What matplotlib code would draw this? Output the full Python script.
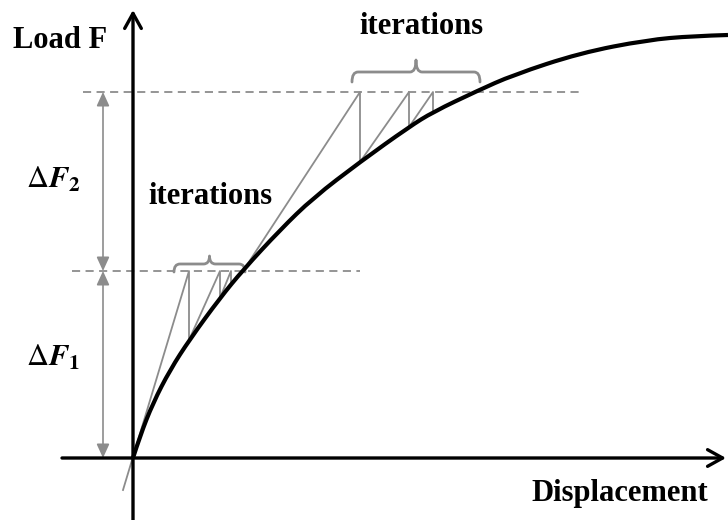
import matplotlib
matplotlib.use("Agg")
import matplotlib.pyplot as plt
from matplotlib.path import Path
from matplotlib.patches import PathPatch

plt.rcParams['font.family'] = ['Liberation Serif', 'DejaVu Serif']
plt.rcParams['mathtext.fontset'] = 'stix'

# ---------------- data (displacement, load) ----------------
curve_u = [0, 7, 20, 37, 57, 87, 110, 147, 180, 227, 276, 300, 344, 380, 447, 514, 560, 595]
curve_F = [0, 22, 55, 88, 119, 160, 188, 228, 260, 296, 331, 346, 367, 383, 405, 418, 422, 423]

load_levels = [187, 366]          # F1, F2
level_u_start = [-61, -50]
level_u_end = [227, 450]

inc1_u = [-10, 56, 56, 87, 87, 98, 98]
inc1_F = [-32, 187, 118, 187, 160, 187, 174]
inc2_u = [110, 227, 227, 276, 276, 300, 300]
inc2_F = [187, 366, 296, 366, 331, 366, 346]

brace_u = [(41, 112), (219, 347)]
brace_base = [186, 376]
brace_h = [8, 10]
brace_tip = [8, 12]

axis_u = [-71, 593]
axis_F = [-62, 448]
delta_u = -30

GRAY = '#8c8c8c'

fig = plt.figure(figsize=(7.28, 5.20), dpi=100)
ax = fig.add_axes([0, 0, 1, 1])
ax.set_xlim(-133, 595)
ax.set_ylim(-62, 458)
ax.axis('off')

# dashed load levels
for F, u0, u1 in zip(load_levels, level_u_start, level_u_end):
    ax.plot([u0, u1], [F, F], color=GRAY, lw=1.3, ls=(0, (4.5, 3)), zorder=1)

# iteration lines
ax.plot(inc1_u, inc1_F, color=GRAY, lw=1.3, zorder=2)
ax.plot(inc2_u, inc2_F, color=GRAY, lw=1.3, zorder=2)

# main curve: smooth quadratic path through the read points (points act as controls)
pts = list(zip(curve_u, curve_F))
verts = [pts[0]]
codes = [Path.MOVETO]
for i in range(1, len(pts) - 1):
    mid = ((pts[i][0] + pts[i + 1][0]) / 2, (pts[i][1] + pts[i + 1][1]) / 2)
    if i == len(pts) - 2:
        mid = pts[-1]
    verts += [pts[i], mid]
    codes += [Path.CURVE3, Path.CURVE3]
ax.add_patch(PathPatch(Path(verts, codes), fill=False, edgecolor='black', lw=3.0,
                       capstyle='butt', zorder=4))

# axes arrows
ax.annotate('', xy=(axis_u[1], 0), xytext=(axis_u[0], 0),
            arrowprops=dict(arrowstyle='->,head_length=0.9,head_width=0.5', lw=2.4,
                            color='black', shrinkA=0, shrinkB=0, mutation_scale=12), zorder=5)
ax.annotate('', xy=(0, axis_F[1]), xytext=(0, axis_F[0]),
            arrowprops=dict(arrowstyle='->,head_length=0.9,head_width=0.5', lw=2.4,
                            color='black', shrinkA=0, shrinkB=0, mutation_scale=12), zorder=5)

# delta arrows
lv = [0] + load_levels
for a, b in zip(lv[:-1], lv[1:]):
    ax.annotate('', xy=(delta_u, b), xytext=(delta_u, a),
                arrowprops=dict(arrowstyle='<|-|>,head_length=0.7,head_width=0.32', lw=1.2,
                                color=GRAY, shrinkA=0, shrinkB=0, mutation_scale=12))

# braces
def brace(x0, x1, y, h, t):
    xm = (x0 + x1) / 2
    c = 6
    verts = [(x0, y), (x0, y + h), (x0 + c, y + h), (xm - c, y + h),
             (xm, y + h), (xm, y + h + t), (xm, y + h), (xm + c, y + h),
             (x1 - c, y + h), (x1, y + h), (x1, y)]
    codes = [Path.MOVETO, Path.CURVE3, Path.CURVE3, Path.LINETO,
             Path.CURVE3, Path.CURVE3, Path.CURVE3, Path.CURVE3,
             Path.LINETO, Path.CURVE3, Path.CURVE3]
    ax.add_patch(PathPatch(Path(verts, codes), fill=False, edgecolor=GRAY, lw=2.0,
                           capstyle='round', joinstyle='round', zorder=3))

for (x0, x1), y, h, t in zip(brace_u, brace_base, brace_h, brace_tip):
    brace(x0, x1, y, h, t)

# texts
tk = dict(fontweight='bold', fontsize=22, ha='center', va='center')
ax.text(-73, 417, 'Load F', **tk)
ax.text(77, 261, 'iterations', **tk)
ax.text(288, 431, 'iterations', **tk)
ax.text(487, -36, 'Displacement', **tk)
ax.text(-80, 278, r'$\Delta\mathbfit{F}_{\mathbf{2}}$', fontsize=22, ha='center', va='center')
ax.text(-80, 100, r'$\Delta\mathbfit{F}_{\mathbf{1}}$', fontsize=22, ha='center', va='center')

fig.savefig('out.png', dpi=100)
